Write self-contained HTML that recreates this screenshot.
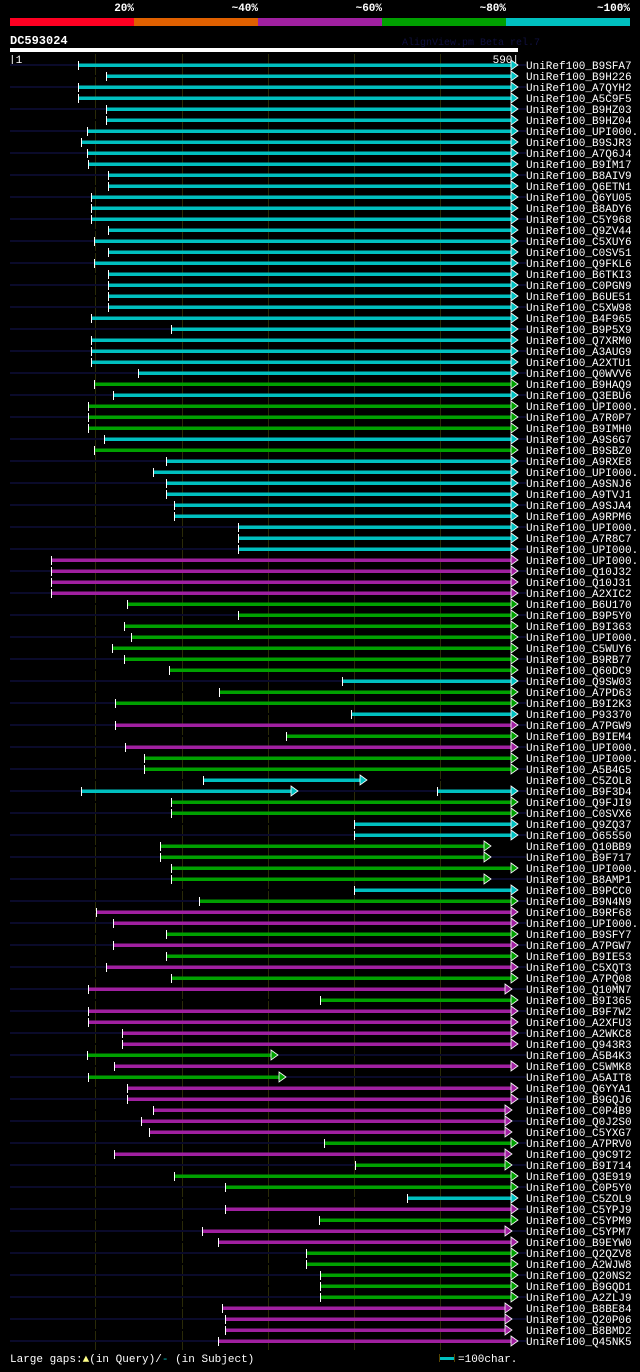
<!DOCTYPE html>
<html><head><meta charset="utf-8"><style>
html,body{margin:0;padding:0;background:#000;}
body{width:640px;height:1367px;overflow:hidden;position:relative;font-family:"Liberation Mono","DejaVu Sans Mono",monospace;}
svg text{font-family:"Liberation Mono","DejaVu Sans Mono",monospace;}
</style></head><body>
<svg id="chart" width="640" height="1367" xmlns="http://www.w3.org/2000/svg">
<g>
<rect x="10" y="18" width="124" height="8" fill="#ff0022"/>
<rect x="134" y="18" width="124" height="8" fill="#e06000"/>
<rect x="258" y="18" width="124" height="8" fill="#a020a0"/>
<rect x="382" y="18" width="124" height="8" fill="#00a000"/>
<rect x="506" y="18" width="124" height="8" fill="#00c0c0"/>
<text x="134" y="11" fill="#fff" font-size="11" font-weight="bold" text-anchor="end">20%</text>
<text x="258" y="11" fill="#fff" font-size="11" font-weight="bold" text-anchor="end">~40%</text>
<text x="382" y="11" fill="#fff" font-size="11" font-weight="bold" text-anchor="end">~60%</text>
<text x="506" y="11" fill="#fff" font-size="11" font-weight="bold" text-anchor="end">~80%</text>
<text x="630" y="11" fill="#fff" font-size="11" font-weight="bold" text-anchor="end">~100%</text>
</g>
<text x="10" y="44" fill="#fff" font-size="12" font-weight="bold">DC593024</text>
<text x="402" y="45" fill="#101040" font-size="10">AlignView.pm Beta rel.7</text>
<rect x="10" y="48" width="508" height="4" fill="#fff"/>
<text x="9" y="63" fill="#fff" font-size="11">|1</text>
<text x="519" y="63" fill="#fff" font-size="11" text-anchor="end">590|</text>
<g id="grid"></g>
<g id="rows"></g>
<text x="10" y="1362" fill="#fff" font-size="11">Large gaps:<tspan fill="#ffff88">▲</tspan>(in Query)/<tspan fill="#00c0c0">-</tspan> (in Subject)</text>
<g>
<rect x="440" y="1357" width="14" height="3" fill="#00c0c0"/>
<rect x="439" y="1354" width="1" height="8" fill="#554400"/>
<rect x="454" y="1354" width="1" height="8" fill="#554400"/>
<text x="458" y="1362" fill="#fff" font-size="11">=100char.</text>
</g>
</svg>
<script>
const names=["B9SFA7","B9H226","A7QYH2","A5C9F5","B9HZ03","B9HZ04","UPI000..","B9SJR3","A7Q6J4","B9IM17","B8AIV9","Q6ETN1","Q6YU05","B8ADY6","C5Y968","Q9ZV44","C5XUY6","C0SV51","Q9FKL6","B6TKI3","C0PGN9","B6UE51","C5XW98","B4F965","B9P5X9","Q7XRM0","A3AUG9","A2XTU1","Q0WVV6","B9HAQ9","Q3EBU6","UPI000..","A7R0P7","B9IMH0","A9S6G7","B9SBZ0","A9RXE8","UPI000..","A9SNJ6","A9TVJ1","A9SJA4","A9RPM6","UPI000..","A7R8C7","UPI000..","UPI000..","Q10J32","Q10J31","A2XIC2","B6U170","B9P5Y0","B9I363","UPI000..","C5WUY6","B9RB77","Q60DC9","Q9SW03","A7PD63","B9I2K3","P93370","A7PGW9","B9IEM4","UPI000..","UPI000..","A5B4G5","C5ZOL8","B9F3D4","Q9FJI9","C0SVX6","Q9ZQ37","O65550","Q10BB9","B9F717","UPI000..","B8AMP1","B9PCC0","B9N4N9","B9RF68","UPI000..","B9SFY7","A7PGW7","B9IE53","C5XQT3","A7PQ08","Q10MN7","B9I365","B9F7W2","A2XFU3","A2WKC8","Q943R3","A5B4K3","C5WMK8","A5AIT8","Q6YYA1","B9GQJ6","C0P4B9","Q0J2S0","C5YXG7","A7PRV0","Q9C9T2","B9I714","Q3E919","C0P5Y0","C5ZOL9","C5YPJ9","C5YPM9","C5YPM7","B9EYW0","Q2QZV8","A2WJW8","Q20NS2","B9GQD1","A2ZLJ9","B8BE84","Q20P06","B8BMD2","Q45NK5"];
const starts=[
81,114,81,81,114,114,91,84,91,93,
116,116,96,96,96,116,99,116,99,116,
116,116,116,96,189,96,96,96,150,99,
122,93,93,93,111,99,183,168,183,183,
192,192,267,267,267,50,50,50,50,138,
267,134,142,120,134,186,387,244,124,398,
124,322,135,157,157,226,85,189,189,401,
401,176,176,189,189,401,221,102,122,183,
122,183,113,189,93,362,93,93,132,132,
91,123,93,138,138,168,154,163,366,123,
402,192,252,463,252,360,225,243,345,345,
362,362,362,248,252,252,243];
const ends=[
586,586,586,586,586,586,586,586,586,586,
586,586,586,586,586,586,586,586,586,586,
586,586,586,586,586,586,586,586,586,586,
586,586,586,586,586,586,586,586,586,586,
586,586,586,586,586,586,586,586,586,586,
586,586,586,586,586,586,586,586,586,586,
586,586,586,586,586,412,331,586,586,586,
586,555,555,586,555,586,586,586,586,586,
586,586,586,586,580,586,586,586,586,586,
308,586,317,586,586,580,580,580,586,580,
580,586,586,586,586,586,580,586,586,586,
586,586,586,580,580,580,586];
const idColors=[
"c","c","c","c","c","c","c","c","c","c",
"c","c","c","c","c","c","c","c","c","c",
"c","c","c","c","c","c","c","c","c","g",
"c","g","g","g","c","g","c","c","c","c",
"c","c","c","c","c","m","m","m","m","g",
"g","g","g","g","g","g","c","g","g","c",
"m","g","m","g","g","c","c","g","g","c",
"c","g","g","g","g","c","g","m","m","g",
"m","g","m","g","m","g","m","m","m","m",
"g","m","g","m","m","m","m","m","g","m",
"g","g","g","c","m","g","m","m","g","g",
"g","g","g","m","m","m","m"];
const extraSeg=[{row:66,from:497,to:586}];
const X0=10, Y0=65, PITCH=11, QLEN=590;
const xs=q=>X0+(q-1)*(508/589);
const ys=i=>Y0+i*PITCH;
const colorMap={c:"#00c0c0",g:"#00a000",m:"#a020a0"};
const NS="http://www.w3.org/2000/svg";
const grid=document.getElementById('grid');
for(let q=100;q<QLEN;q+=100){
  const l=document.createElementNS(NS,'rect');
  
  
  l.setAttribute('x',Math.round(xs(q)));l.setAttribute('y',54);l.setAttribute('width',1);l.setAttribute('height',1296);l.setAttribute('fill','#2a2a08');
  grid.appendChild(l);
}
const rows=document.getElementById('rows');
function seg(g,x1,x2,y,col){
  const r=document.createElementNS(NS,'rect');
  
  
  r.setAttribute('x',x1);r.setAttribute('y',y-1.5);r.setAttribute('width',Math.max(0,x2-x1));r.setAttribute('height',3.5);r.setAttribute('fill',col);
  g.appendChild(r);
  const t=document.createElementNS(NS,'rect');
  
  
  t.setAttribute('x',x1-1);t.setAttribute('y',y-4);t.setAttribute('width',1);t.setAttribute('height',9);t.setAttribute('fill','#fff');
  g.appendChild(t);
  const a=document.createElementNS(NS,'polygon');
  
  
  a.setAttribute('points',`${x2-4},${y-5} ${x2+3},${y} ${x2-4},${y+5}`);a.setAttribute('fill',col);a.setAttribute('stroke','#fff');a.setAttribute('stroke-width','0.8');
  g.appendChild(a);
}
names.forEach((n,i)=>{
  const y=ys(i);
  const g=document.createElementNS(NS,'g');
  
  
  const bg=document.createElementNS(NS,'rect');
  
  
  bg.setAttribute('x',10);bg.setAttribute('y',y-1);bg.setAttribute('width',516);bg.setAttribute('height',2);bg.setAttribute('fill',i%2?'#000':'#0a0a2a');
  g.appendChild(bg);
  const col=colorMap[idColors[i]];
  seg(g,Math.round(xs(starts[i])),Math.round(xs(ends[i])),y,col);
  extraSeg.filter(e=>e.row===i).forEach(e=>seg(g,Math.round(xs(e.from)),Math.round(xs(e.to)),y,col));
  const t=document.createElementNS(NS,'text');
  
  
  t.setAttribute('x',526);t.setAttribute('y',y+4);t.setAttribute('fill','#fff');t.setAttribute('font-size','11');
  t.textContent='UniRef100_'+n;
  g.appendChild(t);
  rows.appendChild(g);
});
</script>
</body></html>
